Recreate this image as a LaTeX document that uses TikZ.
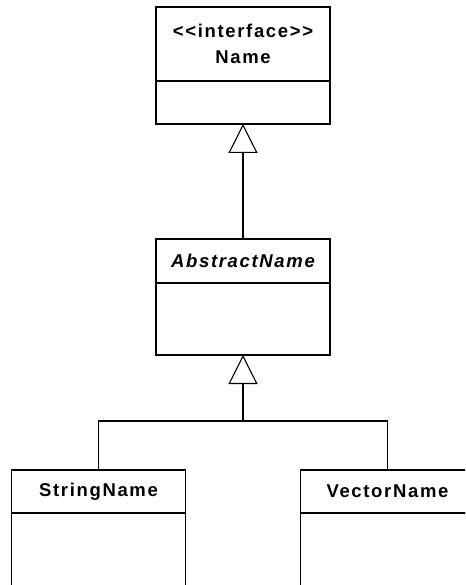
\documentclass[tikz,border=0pt]{standalone}
\usepackage{fontspec}
\setmainfont{Liberation Sans}
\newfontfamily\umlfont{Liberation Sans}[LetterSpace=9]
\usetikzlibrary{positioning,arrows.meta}

\tikzset{
  classhead/.style={draw, line width=1.1pt, minimum width=174pt, inner sep=0pt,
    outer sep=0pt, align=center,
    font=\umlfont\bfseries\fontsize{18.5}{26}\selectfont},
  classbody/.style={draw, line width=1.1pt, minimum width=174pt, inner sep=0pt,
    outer sep=0pt},
  inherit/.style={line width=1.1pt, -{Triangle[open,length=29pt,width=29pt]}},
  branch/.style={line width=1.1pt}
}

\begin{document}
\begin{tikzpicture}[x=1pt,y=-1pt]
  \clip (0,0) rectangle (465,585);

  %% interface at the top
  \node[classhead, minimum height=74pt] (name) at (243,44)
    {\textless\textless interface\textgreater\textgreater\\Name};
  \node[classbody, minimum height=43pt, below=0pt of name] (nameb) {};

  %% abstract class
  \node[classhead, minimum height=44pt] (abst) at (243,261)
    {\itshape AbstractName};
  \node[classbody, minimum height=72pt, below=0pt of abst] (abstb) {};

  %% the two implementations
  \node[classhead, minimum height=43pt] (strn) at (98.5,491.5) {StringName};
  \node[classbody, minimum height=100pt, below=0pt of strn] (strnb) {};
  \node[classhead, minimum height=43pt] (vecn) at (387.5,491.5) {VectorName};
  \node[classbody, minimum height=100pt, below=0pt of vecn] (vecnb) {};

  %% generalisation arrows
  \draw[inherit] (abst.north) -- (nameb.south);
  \coordinate (fork) at (abstb.south |- 0,421);
  \draw[inherit] (strn.north) |- (fork) -- (abstb.south);
  \draw[branch]  (vecn.north) |- (fork);

\end{tikzpicture}
\end{document}
